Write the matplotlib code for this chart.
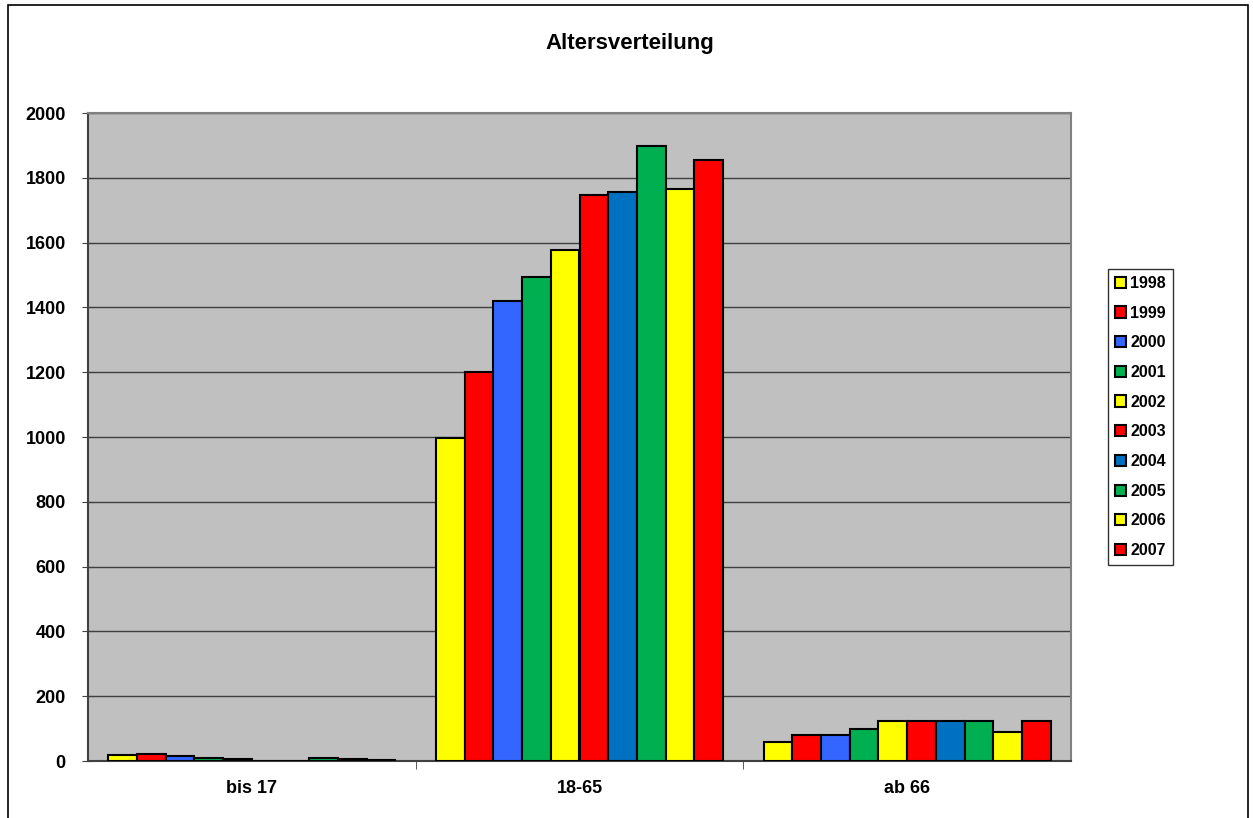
import matplotlib
matplotlib.use("Agg")
import matplotlib.pyplot as plt
import numpy as np
from matplotlib.patches import Rectangle

plt.rcParams['font.family'] = ['Liberation Sans', 'DejaVu Sans']

categories = ["bis 17", "18-65", "ab 66"]
years = ["1998", "1999", "2000", "2001", "2002", "2003", "2004", "2005", "2006", "2007"]
values_bis17 = [20, 23, 15, 8, 5, 1, 1, 8, 5, 2]
values_18_65 = [997, 1200, 1421, 1494, 1577, 1748, 1757, 1899, 1765, 1854]
values_ab66 = [60, 80, 80, 98, 124, 124, 122, 122, 90, 123]
colors = ["#FFFF00", "#FF0000", "#3366FF", "#00B050", "#FFFF00",
          "#FF0000", "#0070C0", "#00B050", "#FFFF00", "#FF0000"]

data = np.array([values_bis17, values_18_65, values_ab66])

fig = plt.figure(figsize=(12.53, 8.18), dpi=100)
ax = fig.add_axes([88/1253, 57/818, (1071-88)/1253, (761-113)/818])
ax.set_facecolor("#C0C0C0")

n = len(years)
bw = 0.0876
x = np.arange(len(categories))
for i, (yr, c) in enumerate(zip(years, colors)):
    ax.bar(x - bw * n / 2 + bw * (i + 0.5), data[:, i], width=bw, color=c,
           edgecolor="black", linewidth=1.5, label=yr, zorder=3)

ax.set_xlim(-0.5, 2.5)
ax.set_ylim(0, 2000)
ax.set_yticks(np.arange(0, 2001, 200))
ax.yaxis.grid(True, color="#404040", linewidth=1.0, zorder=0)
ax.set_xticks(x)
ax.set_xticklabels(categories, fontsize=13, fontweight="bold")
ax.tick_params(axis="x", length=0, pad=14)
ax.set_xticks([0.5, 1.5], minor=True)
ax.tick_params(axis="x", which="minor", length=6, direction="out", color="#404040")
ax.tick_params(axis="y", length=8, direction="inout", color="#404040", labelsize=13, pad=12)
for lab in ax.get_yticklabels():
    lab.set_fontweight("bold")
for s in ["top", "right"]:
    ax.spines[s].set_color("#808080")
    ax.spines[s].set_linewidth(1.5)
for s in ["left", "bottom"]:
    ax.spines[s].set_color("#404040")
    ax.spines[s].set_linewidth(1.5)

fig.text(630/1253, 1 - 44/818, "Altersverteilung", ha="center", va="center",
         fontsize=16, fontweight="bold")

leg = fig.legend(loc="center", bbox_to_anchor=(1140.5/1253, 1 - 417/818),
                 frameon=True, fancybox=False, edgecolor="black",
                 handlelength=0.7, handleheight=0.7, handletextpad=0.25,
                 labelspacing=0.92, borderpad=0.45, borderaxespad=0,
                 prop={"weight": "bold", "size": 11.5})
leg.get_frame().set_linewidth(1.0)

fig.patches.append(Rectangle((8/1253, -0.05), 1240/1253, 1.05 - 5/818, transform=fig.transFigure,
                             fill=False, edgecolor="black", linewidth=1.2, clip_on=False))

fig.savefig("out.png", dpi=100)
